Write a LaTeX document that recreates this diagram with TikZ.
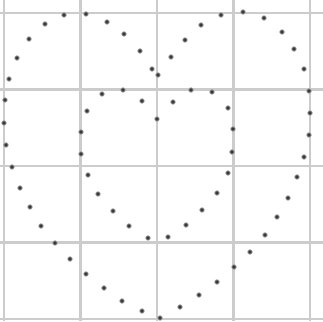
\documentclass[tikz,border=0pt]{standalone}
\begin{document}
\begin{tikzpicture}[x=1pt,y=-1pt,
  gridline/.style={draw=black!20,line width=2.6pt},
  dotmark/.style={fill=black!78,draw=black!40,line width=0.8pt}]
\useasboundingbox (0,0) rectangle (323,321);
\fill[white] (0,0) rectangle (323,321);
% grid
\foreach \gx in {4,80.5,157,233.5,310}
  \draw[gridline] (\gx,0) -- (\gx,321);
\foreach \gy in {13,89.5,166,242.5,319}
  \draw[gridline] (0,\gy) -- (323,\gy);
% outer heart
\foreach \px/\py in {158/75,152/69,140/51,124/34,107/22,86/14,64/15,45/24,29/39,17/58,9/79,5/100,4/123,6/145,12/167,20/188,30/207,41/226,55/243,70/259,86/274,104/288,122/301,142/311,160/318,180/307,199/295,217/282,234/267,250/252,265/235,277/217,288/198,297/177,304/157,309/135,310/113,309/91,304/69,294/49,282/32,264/18,243/12,221/15,201/25,185/40,171/57}
  \filldraw[dotmark] (\px,\py) circle[radius=2.2];
% inner heart
\foreach \px/\py in {157/119,142/101,123/90,102/94,87/111,81/132,81/154,88/175,98/194,113/211,129/226,148/238,168/237,186/225,202/210,217/193,228/173,232/152,233/129,228/108,212/92,191/90,173/102}
  \filldraw[dotmark] (\px,\py) circle[radius=2.2];
\end{tikzpicture}
\end{document}
